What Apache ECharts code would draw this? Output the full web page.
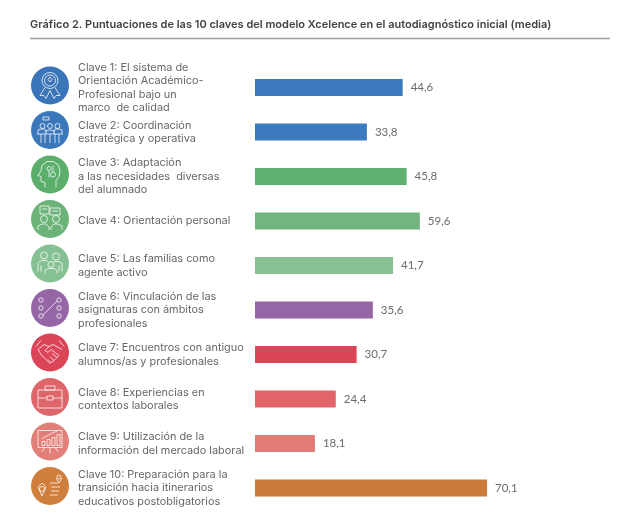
<!DOCTYPE html>
<html>
<head>
    <meta charset="utf-8">
    <title>Gráfico 2</title>
    <script src="https://cdn.jsdelivr.net/npm/echarts@6/dist/echarts.min.js"></script>
    <style>
        html, body { margin: 0; padding: 0; background: #fff; }
        #main { width: 622px; height: 523px; }
    </style>
</head>
<body>
    <div id="main"></div>
    <script type="text/javascript">
        var titleText = 'Gráfico 2. Puntuaciones de las 10 claves del modelo Xcelence en el autodiagnóstico inicial (media)';
        var categories = [
            'Clave 1: El sistema de\nOrientación Académico-\nProfesional bajo un\nmarco  de calidad',
            'Clave 2: Coordinación\nestratégica y operativa',
            'Clave 3: Adaptación\na las necesidades  diversas\ndel alumnado',
            'Clave 4: Orientación personal',
            'Clave 5: Las familias como\nagente activo',
            'Clave 6: Vinculación de las\nasignaturas con ámbitos\nprofesionales',
            'Clave 7: Encuentros con antiguo\nalumnos/as y profesionales',
            'Clave 8: Experiencias en\ncontextos laborales',
            'Clave 9: Utilización de la\ninformación del mercado laboral',
            'Clave 10: Preparación para la\ntransición hacia itinerarios\neducativos postobligatorios'
        ];
        // printed value of each key
        var printedValues = ['44,6', '33,8', '45,8', '59,6', '41,7', '35,6', '30,7', '24,4', '18,1', '70,1'];
        // bar lengths as drawn: in the source Clave 4 is shorter than its printed 59,6
        var barLengths = [44.6, 33.8, 45.8, 49.8, 41.7, 35.6, 30.7, 24.4, 18.1, 70.1];
        var barColors = ['#3b78bc', '#3b7abf', '#5fb06f', '#73b57e', '#87c192', '#9565a6', '#dc4558', '#e06469', '#e27b76', '#cc7a3c'];
        var iconColors = ['#3b75b9', '#3b78bb', '#5cae6b', '#6cb37a', '#86c194', '#9565a6', '#dc4558', '#de666b', '#e27f79', '#cf7f3b'];

        // line icons, relative to the circle centre: c = circle, p = polyline, r = rect
        var icons = [
            [['c', 0, -5, 8], ['c', 0, -5, 5.5], ['p', -2, -6, 0, -8.5, 2, -6, 0, -3.5, -2, -6],
             ['p', -5, 2, -10, 10, -6, 10, -4, 13, 0, 5], ['p', 5, 2, 10, 10, 6, 10, 4, 13, 0, 5]],
            [['c', -7.5, -4, 2.5], ['c', 0, -4, 2.5], ['c', 7.5, -4, 2.5], ['r', -7, -13, 6, 3],
             ['p', -12, 4, -12, 0, -9, -1, -5, -1, -4, 2], ['p', 12, 4, 12, 0, 9, -1, 5, -1, 4, 2],
             ['p', -4, 4, -4, 1, -1, 0, 1, 0, 4, 1, 4, 4], ['p', -13, 4, 13, 4],
             ['p', -9, 4, -9, 13], ['p', -5, 4, -5, 13], ['p', 0, 4, 0, 13], ['p', 5, 4, 5, 13], ['p', 9, 4, 9, 13]],
            [['p', -5, 13, -5, 8, -9, 7, -9, 2, -12, 1, -9, -4, -8, -9, -3, -13, 3, -13, 8, -10, 10, -4, 9, 2, 6, 6, 6, 13],
             ['c', -1, -6, 2], ['c', 3, 0, 2.5], ['p', -1, -4, -1, 3], ['p', 3, -9, 3, -3]],
            [['r', -10, -13, 9, 8], ['r', 0, -11, 10, 7], ['p', -8, -10, -3, -10], ['p', 2, -8, 8, -8],
             ['c', -6, 0, 3.5], ['c', 6, 0, 3.5], ['p', -12, 11, -12, 7, -8, 5, -4, 5, -1, 8, -1, 11],
             ['p', 1, 11, 1, 8, 4, 5, 8, 5, 12, 7, 12, 11]],
            [['c', -6, -8, 3.5], ['c', 6, -7, 3.5], ['c', 1, 1, 3],
             ['p', -12, 8, -12, 0, -9, -3, -4, -3, -2, -2], ['p', 12, 8, 12, 0, 9, -2, 4, -2],
             ['p', -5, 10, -5, 7, -2, 5, 4, 5, 7, 7, 7, 10], ['p', -9, 2, -9, 8], ['p', 9, 2, 9, 8]],
            [['c', -9, -8, 2.2], ['c', -9, 0, 2.2], ['c', -9, 8, 2.2], ['c', 9, -8, 2.2], ['c', 9, 0, 2.2], ['c', 9, 8, 2.2],
             ['p', -7, 7, 7, -7]],
            [['p', -14, -6, -9, -12], ['p', 14, -6, 9, -12], ['p', -12, -3, -6, -8, -1, -6, 3, -8, 12, -3],
             ['p', -1, -6, -5, -2, -2, 0, 1, -3, 9, 3, 7, 5, 2, 1], ['p', 7, 5, 4, 8, 0, 4],
             ['p', 4, 8, 1, 10, -2, 7], ['p', -12, -3, -9, 2, -2, 9, 0, 11, 1, 10]],
            [['r', -12, -7, 24, 18], ['r', -5, -11, 10, 4], ['p', -12, 1, -3, 1], ['p', 3, 1, 12, 1], ['r', -3, -1, 6, 4]],
            [['r', -12, -11, 24, 17], ['p', -8, 10, -5, 6], ['p', 8, 10, 5, 6], ['p', 0, 6, 0, 12],
             ['r', -8, 0, 3, 4], ['r', -3, -2, 3, 6], ['r', 2, -4, 3, 8], ['r', 7, -7, 3, 11], ['p', -8, -3, -2, -6, 3, -9, 7, -10]],
            [['c', 9, -9, 2], ['p', 6, -8, 9, -3, 12, -8], ['c', -8, 3, 2.5], ['p', -12, 1, -8, 10, -4, 1], ['p', -12, 1, -8, -3, -4, 1],
             ['p', 0, -3, 8, -3], ['p', 1, 1, 10, 1], ['p', 1, 5, 9, 5], ['p', 0, 9, 8, 9]]
        ];

        function iconChildren(icon, stroke) {
            return icon.map(function (part) {
                var style = { fill: 'none', stroke: stroke, lineWidth: 0.9 };
                if (part[0] == 'c') {
                    return { type: 'circle', shape: { cx: part[1], cy: part[2], r: part[3] }, style: style };
                }
                if (part[0] == 'r') {
                    return { type: 'rect', shape: { x: part[1], y: part[2], width: part[3], height: part[4] }, style: style };
                }
                var pts = [];
                for (var i = 1; i < part.length; i += 2) {
                    pts.push([part[i], part[i + 1]]);
                }
                return { type: 'polyline', shape: { points: pts }, style: style };
            });
        }

        function renderIcon(params, api) {
            var idx = api.value(0);
            var pos = api.coord([0, idx]);
            var children = [{ type: 'circle', shape: { cx: 0, cy: 0, r: 19 }, style: { fill: iconColors[idx] } }];
            return {
                type: 'group',
                x: pos[0] - 205,
                y: pos[1] - 2,
                children: children.concat(iconChildren(icons[idx], 'rgba(255,255,255,0.85)'))
            };
        }

        var myChart = echarts.init(document.getElementById('main'));
        var option = {
            animation: false,
            backgroundColor: '#ffffff',
            title: {
                text: titleText,
                left: 25,
                top: 14,
                textStyle: { fontFamily: 'Inter', fontSize: 11, fontWeight: 600, color: '#3e4347' }
            },
            graphic: [{
                type: 'line',
                shape: { x1: 30, y1: 38.5, x2: 610, y2: 38.5 },
                style: { stroke: '#a0a0a0', lineWidth: 1.4 }
            }],
            grid: { left: 255, top: 65.25, width: 331, height: 445 },
            xAxis: { type: 'value', min: 0, max: 100, show: false },
            yAxis: {
                type: 'category',
                inverse: true,
                data: categories,
                axisLine: { show: false },
                axisTick: { show: false },
                axisLabel: {
                    interval: 0,
                    align: 'left',
                    margin: 177,
                    fontFamily: 'Inter',
                    fontSize: 10.9,
                    lineHeight: 13.5,
                    color: '#63676b'
                }
            },
            series: [{
                type: 'bar',
                barWidth: 17,
                silent: true,
                data: barLengths.map(function (v, i) {
                    return { value: v, itemStyle: { color: barColors[i] } };
                }),
                label: {
                    show: true,
                    position: 'right',
                    distance: 8,
                    fontFamily: 'Lato',
                    fontSize: 11.5,
                    color: '#6b6b6b',
                    formatter: function (p) { return printedValues[p.dataIndex]; }
                }
            }, {
                type: 'custom',
                coordinateSystem: 'cartesian2d',
                clip: false,
                silent: true,
                encode: { x: 1, y: 0 },
                data: categories.map(function (c, i) { return [i, 0]; }),
                renderItem: renderIcon
            }]
        };
        myChart.setOption(option);
    </script>
</body>
</html>
